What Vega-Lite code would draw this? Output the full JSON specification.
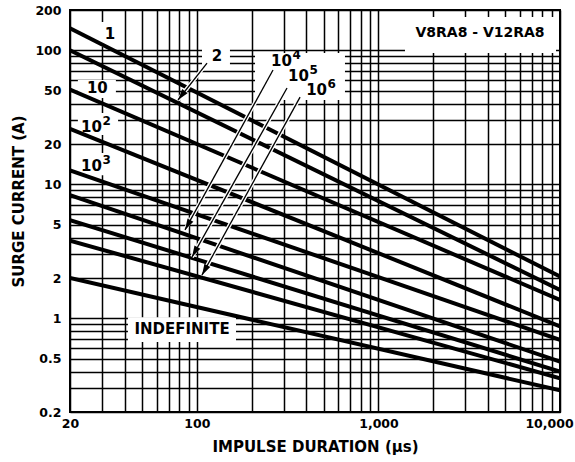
{
  "$schema": "https://vega.github.io/schema/vega-lite/v6.json",
  "width": 490,
  "height": 402,
  "autosize": {"type": "none"},
  "padding": {"left": 70, "top": 10, "right": 15, "bottom": 50},
  "config": {
    "view": {"stroke": "#000", "strokeWidth": 2},
    "font": "DejaVu Sans",
    "text": {"font": "DejaVu Sans", "fontWeight": "bold", "color": "#000"}
  },
  "datasets": {
    "curves": [
      {"s": "1", "x": 20, "y": 146}, {"s": "1", "x": 10000, "y": 2.05},
      {"s": "2", "x": 20, "y": 100}, {"s": "2", "x": 10000, "y": 1.63},
      {"s": "10", "x": 20, "y": 51}, {"s": "10", "x": 10000, "y": 1.37},
      {"s": "10^2", "x": 20, "y": 26}, {"s": "10^2", "x": 10000, "y": 0.87},
      {"s": "10^3", "x": 20, "y": 12.7}, {"s": "10^3", "x": 10000, "y": 0.69},
      {"s": "10^4", "x": 20, "y": 8.3}, {"s": "10^4", "x": 10000, "y": 0.475},
      {"s": "10^5", "x": 20, "y": 5.4}, {"s": "10^5", "x": 10000, "y": 0.4},
      {"s": "10^6", "x": 20, "y": 3.8}, {"s": "10^6", "x": 10000, "y": 0.357},
      {"s": "INDEFINITE", "x": 20, "y": 2.0}, {"s": "INDEFINITE", "x": 10000, "y": 0.29}
    ],
    "boxes": [
      {"x": 26.4, "x2": 37.7, "y": 162.7, "y2": 105.9},
      {"x": 106.7, "x2": 152.1, "y": 111.5, "y2": 73.8},
      {"x": 22.1, "x2": 35.8, "y": 60.1, "y2": 44.1},
      {"x": 22.1, "x2": 36.8, "y": 34.1, "y2": 23.3},
      {"x": 22.1, "x2": 36.8, "y": 17.1, "y2": 11.7},
      {"x": 209, "x2": 654, "y": 95.6, "y2": 42.6},
      {"x": 1400, "x2": 9506, "y": 177.3, "y2": 95.6},
      {"x": 41.7, "x2": 164.2, "y": 1.02, "y2": 0.666}
    ],
    "arrows": [
      {"a": "2", "x": 113.7, "y": 80.4, "head": false}, {"a": "2", "x": 78.7, "y": 42.6, "head": true},
      {"a": "4", "x": 262.6, "y": 71.3, "head": false}, {"a": "4", "x": 86, "y": 4.57, "head": true},
      {"a": "5", "x": 313.6, "y": 52.4, "head": false}, {"a": "5", "x": 94, "y": 2.87, "head": true},
      {"a": "6", "x": 370, "y": 44.8, "head": false}, {"a": "6", "x": 106.6, "y": 2.1, "head": true}
    ],
    "labels": [
      {"t": "1", "x": 33.2, "y": 132.4},
      {"t": "2", "x": 129, "y": 90.7},
      {"t": "10", "x": 28.3, "y": 52.4},
      {"t": "INDEFINITE", "x": 82.8, "y": 0.833}
    ],
    "tag": [
      {"t": "V8RA8 - V12RA8", "x": 3626, "y": 134.8}
    ],
    "sups": [
      {"b": "10", "e": "2", "x": 30.0, "y": 26.6},
      {"b": "10", "e": "3", "x": 30.0, "y": 13.6},
      {"b": "10", "e": "4", "x": 334, "y": 83.3},
      {"b": "10", "e": "5", "x": 414, "y": 64.6},
      {"b": "10", "e": "6", "x": 521, "y": 50.6}
    ]
  },
  "encoding": {
    "x": {
      "field": "x", "type": "quantitative",
      "scale": {"type": "log", "domain": [20, 10000], "nice": false, "zero": false},
      "axis": {
        "values": [20, 30, 40, 50, 60, 70, 80, 90, 100, 200, 300, 400, 500, 600, 700, 800, 900, 1000, 2000, 3000, 4000, 5000, 6000, 7000, 8000, 9000, 10000],
        "labelExpr": "indexof([20, 100, 1000, 10000], datum.value) >= 0 ? format(datum.value, ',') : ''",
        "grid": true, "gridColor": "#000", "gridWidth": 1.5, "gridOpacity": 1,
        "ticks": false, "tickSize": 0, "domain": false,
        "labelFont": "DejaVu Sans", "labelFontWeight": "bold", "labelFontSize": 12.5, "labelColor": "#000",
        "labelPadding": 5, "labelFlush": false, "labelOverlap": false,
        "labelOffset": {"condition": {"test": "datum.value == 10000", "value": -11}, "value": 0},
        "title": "IMPULSE DURATION (μs)",
        "titleFont": "DejaVu Sans", "titleFontSize": 15, "titleFontWeight": "bold", "titleColor": "#000",
        "titlePadding": 10
      }
    },
    "y": {
      "field": "y", "type": "quantitative",
      "scale": {"type": "log", "domain": [0.2, 200], "nice": false, "zero": false},
      "axis": {
        "values": [0.2, 0.3, 0.4, 0.5, 0.6, 0.7, 0.8, 0.9, 1, 2, 3, 4, 5, 6, 7, 8, 9, 10, 20, 30, 40, 50, 60, 70, 80, 90, 100, 200],
        "labelExpr": "indexof([0.2, 0.5, 1, 2, 5, 10, 20, 50, 100, 200], datum.value) >= 0 ? format(datum.value, '') : ''",
        "grid": true, "gridColor": "#000", "gridWidth": 1.5, "gridOpacity": 1,
        "ticks": false, "tickSize": 0, "domain": false,
        "labelFont": "DejaVu Sans", "labelFontWeight": "bold", "labelFontSize": 12.5, "labelColor": "#000",
        "labelPadding": 9, "labelOverlap": false,
        "title": "SURGE CURRENT (A)",
        "titleFont": "DejaVu Sans", "titleFontSize": 15, "titleFontWeight": "bold", "titleColor": "#000",
        "titlePadding": 8, "titleY": 191
      }
    }
  },
  "layer": [
    {
      "data": {"name": "boxes"},
      "mark": {"type": "rect", "fill": "#fff", "stroke": null},
      "encoding": {"x2": {"field": "x2"}, "y2": {"field": "y2"}}
    },
    {
      "data": {"name": "curves"},
      "mark": {"type": "line", "color": "#000", "strokeWidth": 4, "strokeCap": "butt", "clip": true},
      "encoding": {"detail": {"field": "s"}}
    },
    {
      "data": {"name": "arrows"},
      "mark": {"type": "line", "color": "#fff", "strokeWidth": 4},
      "encoding": {"detail": {"field": "a"}}
    },
    {
      "data": {"name": "arrows"},
      "mark": {"type": "line", "color": "#000", "strokeWidth": 1.3},
      "encoding": {"detail": {"field": "a"}}
    },
    {
      "data": {"name": "arrows"},
      "transform": [{"filter": "datum.head && datum.a == '2'"}],
      "mark": {"type": "point", "shape": "M0,0L0.3,1L-0.3,1Z", "filled": true, "color": "#000", "size": 500, "angle": 218, "opacity": 1},
      "encoding": {}
    },
    {
      "data": {"name": "arrows"},
      "transform": [{"filter": "datum.head && datum.a != '2'"}],
      "mark": {"type": "point", "shape": "M0,0L0.3,1L-0.3,1Z", "filled": true, "color": "#000", "size": 500, "angle": 209, "opacity": 1},
      "encoding": {}
    },
    {
      "data": {"name": "labels"},
      "mark": {"type": "text", "fontSize": 15, "align": "center", "baseline": "middle"},
      "encoding": {"text": {"field": "t"}}
    },
    {
      "data": {"name": "tag"},
      "mark": {"type": "text", "fontSize": 14, "align": "center", "baseline": "middle"},
      "encoding": {"text": {"field": "t"}}
    },
    {
      "data": {"name": "sups"},
      "mark": {"type": "text", "fontSize": 15, "align": "right", "baseline": "middle"},
      "encoding": {"text": {"field": "b"}}
    },
    {
      "data": {"name": "sups"},
      "mark": {"type": "text", "fontSize": 12, "align": "left", "baseline": "middle", "dy": -6, "dx": 0.5},
      "encoding": {"text": {"field": "e"}}
    }
  ]
}
